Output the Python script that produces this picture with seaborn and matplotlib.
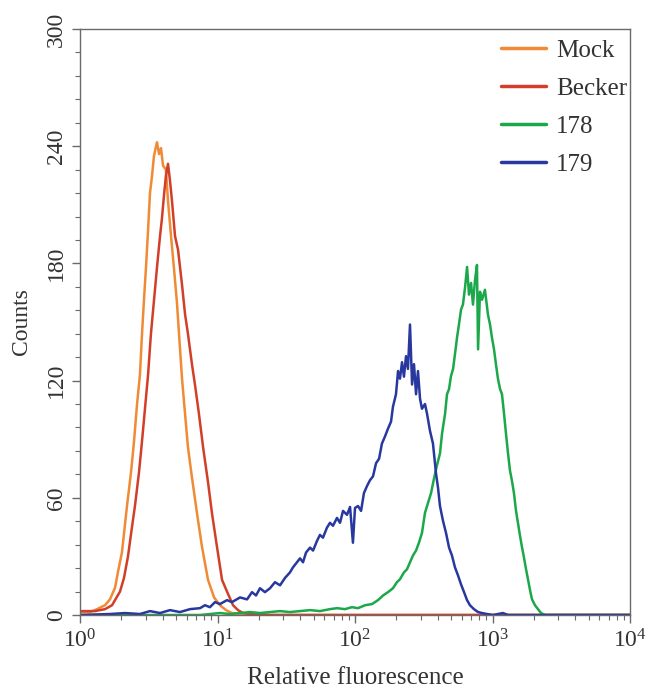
import numpy as np
import pandas as pd
import matplotlib
matplotlib.use("Agg")
import matplotlib.pyplot as plt
import seaborn as sns
from matplotlib.lines import Line2D
from matplotlib.ticker import LogLocator, MultipleLocator, NullFormatter, FixedLocator

# ---------------- data ----------------
samples = ["Mock", "Becker", "178", "179"]

# x values are log10(relative fluorescence)
mock_log = [0, 0.073, 0.109, 0.182, 0.218, 0.255, 0.276, 0.305, 0.342, 0.371, 0.393, 0.415,
            0.436, 0.451, 0.465, 0.480, 0.495, 0.509, 0.524, 0.538, 0.553, 0.560, 0.575, 0.589,
            0.604, 0.625, 0.640, 0.662, 0.684, 0.705, 0.720, 0.742, 0.764, 0.785, 0.815, 0.851,
            0.887, 0.931, 0.975, 1.018, 1.062, 1.105, 1.164, 1.273, 1.382, 4.0]
mock_counts = [1.5, 1.5, 2.5, 5, 8, 14, 22, 32, 56, 73, 89, 108,
               123, 144, 161, 178, 197, 216, 225, 235, 240, 242, 236, 239,
               230, 228, 212, 194, 177, 160, 144, 121, 103, 86, 70, 52,
               35, 18, 9, 5, 2.5, 1, 0.5, 1, 0, 0]

becker_log = [0, 0.109, 0.182, 0.233, 0.291, 0.320, 0.349, 0.378, 0.400, 0.429, 0.451, 0.473,
              0.495, 0.516, 0.538, 0.560, 0.582, 0.596, 0.611, 0.625, 0.640, 0.655, 0.669, 0.691,
              0.713, 0.742, 0.764, 0.785, 0.815, 0.836, 0.865, 0.895, 0.931, 0.960, 0.996, 1.033,
              1.069, 1.113, 1.149, 1.185, 1.236, 1.309, 4.0]
becker_counts = [2, 2, 3, 5, 12, 19, 30, 45, 56, 73, 89, 106,
                 123, 144, 161, 178, 194, 203, 215, 225, 231, 222, 212, 194,
                 187, 169, 154, 144, 128, 118, 103, 86, 68, 52, 35, 18,
                 12, 5, 2.5, 1, 0.5, 0, 0]

s178_log = [0, 0.873, 0.945, 1.018, 1.091, 1.164, 1.236, 1.309, 1.382, 1.455, 1.527, 1.600,
            1.673, 1.745, 1.818, 1.869, 1.927, 1.978, 2.022, 2.073, 2.124, 2.167, 2.204, 2.240,
            2.276, 2.305, 2.327, 2.356, 2.378, 2.400, 2.422, 2.444, 2.465, 2.487, 2.509, 2.531,
            2.553, 2.575, 2.596, 2.618, 2.633, 2.655, 2.669, 2.684, 2.698, 2.713, 2.727, 2.742,
            2.756, 2.771, 2.785, 2.800, 2.815, 2.829, 2.844, 2.858, 2.873, 2.887, 2.895, 2.909,
            2.924, 2.945, 2.967, 2.982, 2.996, 3.011, 3.025, 3.040, 3.055, 3.069, 3.084, 3.098,
            3.113, 3.127, 3.142, 3.156, 3.171, 3.185, 3.200, 3.215, 3.229, 3.244, 3.258, 3.273,
            3.287, 3.309, 3.331, 3.353, 3.382, 4.0]
s178_counts = [0, 0, 0.5, 1, 0.5, 1, 1.5, 1, 1.5, 2, 1.5, 2,
               2.5, 2, 3, 3.5, 3, 4, 3.5, 5, 5.6, 7.6, 10, 11.7,
               13.7, 16.8, 18.3, 21.8, 23.4, 27, 30.5, 33, 37, 42, 52.3, 57.4,
               62.4, 70, 76.6, 82.7, 92.9, 103, 113, 115.7, 122.3, 125.9, 133.5, 142,
               148.7, 156.3, 158.9, 167.5, 178.2, 164, 170, 158.9, 171.6, 179.2, 136, 165.5,
               161.4, 166.5, 153.8, 148.7, 142, 136, 128.4, 120.8, 115.7, 113, 103, 92.9,
               82.7, 74, 68.5, 62.4, 53.3, 47.2, 40.6, 34.5, 29.4, 23.4, 18.3, 12.7,
               8.1, 5, 3, 1, 0, 0]

s179_log = [0, 0.218, 0.327, 0.436, 0.509, 0.582, 0.655, 0.727, 0.800, 0.873, 0.909, 0.945,
            0.982, 1.018, 1.069, 1.105, 1.164, 1.215, 1.251, 1.280, 1.309, 1.345, 1.382, 1.418,
            1.455, 1.491, 1.527, 1.549, 1.578, 1.600, 1.622, 1.644, 1.673, 1.695, 1.724, 1.745,
            1.767, 1.796, 1.818, 1.840, 1.869, 1.891, 1.913, 1.942, 1.964, 1.985, 2.000, 2.022,
            2.044, 2.065, 2.087, 2.109, 2.131, 2.153, 2.175, 2.196, 2.218, 2.240, 2.262, 2.276,
            2.298, 2.313, 2.327, 2.342, 2.356, 2.371, 2.385, 2.400, 2.415, 2.429, 2.444, 2.458,
            2.473, 2.487, 2.509, 2.524, 2.545, 2.567, 2.589, 2.604, 2.618, 2.640, 2.662, 2.684,
            2.705, 2.727, 2.749, 2.771, 2.793, 2.815, 2.836, 2.865, 2.895, 2.924, 2.960, 3.004,
            3.076, 3.113, 4.0]
s179_counts = [0, 0.5, 1, 0.5, 2, 1, 2.5, 1.5, 3, 3.5, 5, 4,
               6.6, 5.6, 7.6, 6.6, 9, 8, 11.7, 10, 13.7, 11.7, 13.7, 16.8,
               15.2, 19, 21.8, 24.4, 27, 29, 27, 32, 34.5, 33, 38, 41,
               39.6, 44.7, 47.2, 45.7, 49.7, 47.2, 53.3, 51.3, 55.3, 37, 54.8, 55.8,
               53.3, 62.4, 66, 69, 71, 77.7, 80, 87.8, 91.4, 95.4, 99, 106.6,
               113, 124.9, 121, 129.4, 122, 132.5, 126, 148.7, 118, 128.4, 113, 124.9,
               110.7, 105.6, 108, 103, 94.4, 87.8, 72.6, 65, 55.8, 48.2, 42, 34.5,
               30.5, 24.4, 20.3, 15.7, 11.7, 7.6, 5, 3, 1.5, 1, 0.5, 0,
               1, 0, 0]

x_ticks = [1, 10, 100, 1000, 10000]
y_ticks = [0, 60, 120, 180, 240, 300]

colors = {"Mock": "#F08A35", "Becker": "#D23F28", "178": "#1BA84A", "179": "#28389E"}

# ---------------- build long table ----------------
frames = []
for name, lg, ct in [("Mock", mock_log, mock_counts), ("Becker", becker_log, becker_counts),
                     ("178", s178_log, s178_counts), ("179", s179_log, s179_counts)]:
    frames.append(pd.DataFrame({"fluorescence": 10 ** np.asarray(lg, dtype=float),
                                "counts": ct, "sample": name}))
df = pd.concat(frames, ignore_index=True)

# ---------------- style ----------------
sns.set_style("ticks")
plt.rcParams["font.family"] = ["Liberation Serif", "DejaVu Serif"]
plt.rcParams["mathtext.fontset"] = "custom"
plt.rcParams["mathtext.rm"] = "Liberation Serif"
plt.rcParams["mathtext.it"] = "Liberation Serif:italic"
plt.rcParams["mathtext.default"] = "regular"

fig = plt.figure(figsize=(6.47, 6.92), dpi=100)
ax = fig.add_axes([80 / 647, 1 - 615 / 692, 550 / 647, 586 / 692])
ax.set_xscale("log")

sns.lineplot(data=df, x="fluorescence", y="counts", hue="sample", hue_order=samples,
             palette=colors, estimator=None, sort=True, lw=1.8, ax=ax, legend=False)

ax.set_xlim(1, 10000)
ax.set_ylim(0, 300)
ax.xaxis.set_major_locator(FixedLocator(x_ticks))
ax.xaxis.set_minor_locator(LogLocator(base=10, subs=np.arange(2, 10)))
ax.xaxis.set_minor_formatter(NullFormatter())
ax.set_xticklabels([r"$10^{%d}$" % int(np.log10(v)) for v in x_ticks])
ax.yaxis.set_major_locator(FixedLocator(y_ticks))
ax.yaxis.set_minor_locator(MultipleLocator(12))
ax.set_yticklabels([str(v) for v in y_ticks])

for side in ["left", "bottom", "right", "top"]:
    ax.spines[side].set_color("#6a6a6a")
    ax.spines[side].set_linewidth(1.0)
ax.tick_params(axis="both", which="major", direction="out", length=6, width=1,
               color="#6a6a6a", labelsize=17, labelcolor="#333333")
ax.tick_params(axis="both", which="minor", direction="out", length=3.5, width=0.8,
               color="#6a6a6a")
ax.tick_params(axis="x", pad=4)
for lab in ax.get_yticklabels():
    lab.set_rotation(90)
    lab.set_va("center")
    lab.set_ha("right")

ax.set_xlabel("Relative fluorescence", fontsize=18, color="#333333", labelpad=11)
ax.set_ylabel("Counts", fontsize=17, color="#333333", labelpad=10)

handles = [Line2D([0], [0], color=colors[s], lw=2.5) for s in samples]
ax.legend(handles, samples, loc="upper right", bbox_to_anchor=(1.009, 0.995),
          frameon=False, fontsize=18,
          handlelength=1.8, handletextpad=0.4, labelspacing=0.62,
          borderpad=0.2, borderaxespad=0.1, labelcolor="#333333")

fig.savefig("out.png", dpi=100)
